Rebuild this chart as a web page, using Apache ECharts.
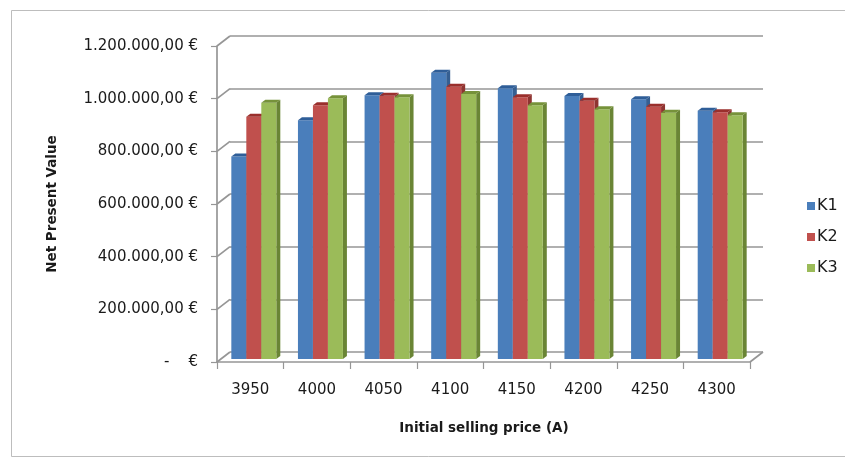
<!DOCTYPE html>
<html>
<head>
<meta charset="utf-8">
<script src="https://cdn.jsdelivr.net/npm/echarts@6/dist/echarts.min.js"></script>
<style>
  html, body { margin: 0; padding: 0; background: #fff; }
  #chart { width: 845px; height: 460px; }
</style>
</head>
<body>
<div id="chart"></div>
<script>
// Net present value by initial selling price, three scenarios
const categories = ['3950', '4000', '4050', '4100', '4150', '4200', '4250', '4300'];
const seriesNames = ['K1', 'K2', 'K3'];
const k1 = [769000, 907000, 1002000, 1087000, 1028000, 999000, 986000, 943000];
const k2 = [920000, 964000, 1000000, 1034000, 994000, 981000, 958000, 937000];
const k3 = [973000, 990000, 994000, 1006000, 964000, 948000, 935000, 926000];
const yTicks = [0, 200000, 400000, 600000, 800000, 1000000, 1200000];

const FONT = 'DejaVu Sans';
const GRID_COLOR = '#969696';

// front, top and side shades of each column
const palette = [
  { front: '#4a7ebb', top: '#2f5e98', side: '#355f92' },
  { front: '#c0504d', top: '#9a2f2c', side: '#8e3431' },
  { front: '#9bbb59', top: '#76923a', side: '#6a8535' }
];

// oblique projection: how far the back wall sits from the front plane
const WALL_DX = 13, WALL_DY = -10;
// columns stand a little behind the front plane and have a small depth
const COL_DX = 3.5, COL_DY = -3;
const DEPTH_DX = 4, DEPTH_DY = -3;
const GROUP_RATIO = 0.675;

function fmtEuro(v) {
  if (v === 0) return '-    €';
  const s = Math.round(v).toString().replace(/\B(?=(\d{3})+(?!\d))/g, '.');
  return s + ',00 €';
}

function columnRenderer(seriesIndex) {
  return function (params, api) {
    const cat = api.value(0);
    const val = api.value(1);
    const base = api.coord([cat, 0]);
    const top = api.coord([cat, val]);
    const band = api.size([1, 0])[0];
    const groupW = band * GROUP_RATIO;
    const barW = groupW / seriesNames.length;
    const x0 = base[0] - groupW / 2 + seriesIndex * barW + COL_DX;
    const x1 = x0 + barW;
    const yb = base[1] + COL_DY;
    const yt = top[1] + COL_DY;
    const c = palette[seriesIndex];
    return {
      type: 'group',
      children: [
        {
          type: 'polygon',
          shape: { points: [[x1, yt], [x1 + DEPTH_DX, yt + DEPTH_DY], [x1 + DEPTH_DX, yb + DEPTH_DY], [x1, yb]] },
          style: { fill: c.side }
        },
        {
          type: 'rect',
          shape: { x: x0, y: yt, width: barW, height: yb - yt },
          style: { fill: c.front }
        },
        {
          type: 'polygon',
          shape: { points: [[x0, yt], [x1, yt], [x1 + DEPTH_DX, yt + DEPTH_DY], [x0 + DEPTH_DX, yt + DEPTH_DY]] },
          style: { fill: c.top }
        }
      ]
    };
  };
}

// side-wall lines joining the front value axis to the back wall,
// plus the right edge of the floor
function frameRenderer(params, api) {
  const v = api.value(0);
  const band = api.size([1, 0])[0];
  const p = api.coord([0, v]);
  const left = p[0] - band / 2;
  const children = [{
    type: 'line',
    shape: { x1: left, y1: p[1], x2: left + WALL_DX, y2: p[1] + WALL_DY },
    style: { stroke: GRID_COLOR, lineWidth: 1.7 }
  }];
  if (v === 0) {
    const q = api.coord([categories.length - 1, 0]);
    const right = q[0] + band / 2;
    children.push({
      type: 'line',
      shape: { x1: right, y1: q[1], x2: right + WALL_DX, y2: q[1] + WALL_DY },
      style: { stroke: GRID_COLOR, lineWidth: 1.7 }
    });
  }
  return { type: 'group', children: children };
}

const chart = echarts.init(document.getElementById('chart'), null, { renderer: 'canvas' });

const valueData = [k1, k2, k3];

const option = {
  animation: false,
  backgroundColor: '#ffffff',
  textStyle: { fontFamily: FONT },
  grid: [
    { left: 217, right: 95, top: 46, bottom: 98 },
    { left: 230, right: 82, top: 36, bottom: 108 }
  ],
  xAxis: [
    {
      type: 'category', gridIndex: 0, data: categories,
      axisLine: { show: true, lineStyle: { color: GRID_COLOR, width: 1.7 } },
      axisTick: { show: true, length: 7, lineStyle: { color: GRID_COLOR, width: 1.2 } },
      axisLabel: { margin: 21, fontSize: 15, color: '#1a1a1a', fontFamily: FONT }
    },
    {
      type: 'category', gridIndex: 1, data: categories, show: false
    }
  ],
  yAxis: [
    {
      type: 'value', gridIndex: 0, min: 0, max: 1200000, interval: 200000,
      axisLine: { show: true, lineStyle: { color: GRID_COLOR, width: 1.7 } },
      axisTick: { show: true, length: 6, lineStyle: { color: GRID_COLOR, width: 1.2 } },
      splitLine: { show: false },
      axisLabel: { margin: 19, fontSize: 15, color: '#1a1a1a', fontFamily: FONT, formatter: fmtEuro }
    },
    {
      type: 'value', gridIndex: 1, min: 0, max: 1200000, interval: 200000,
      axisLine: { show: false }, axisTick: { show: false }, axisLabel: { show: false },
      splitLine: { show: true, lineStyle: { color: GRID_COLOR, width: 1.7 } }
    }
  ],
  legend: {
    orient: 'vertical', left: 802, top: 193,
    itemWidth: 8, itemHeight: 8, itemGap: 15,
    icon: 'rect',
    textStyle: { fontSize: 16, color: '#1a1a1a', fontFamily: FONT, padding: [0, 0, 0, -3] },
    data: seriesNames
  },
  graphic: [
    {
      type: 'rect', silent: true, z: -10,
      shape: { x: 11.5, y: 10.5, width: 845, height: 446 },
      style: { fill: 'none', stroke: '#bdbdbd', lineWidth: 1 }
    },
    {
      type: 'text', x: 52, y: 204, rotation: Math.PI / 2,
      style: {
        text: 'Net Present Value', fontFamily: FONT, fontSize: 13.5, fontWeight: 'bold',
        fill: '#1a1a1a', textAlign: 'center', textVerticalAlign: 'middle'
      }
    },
    {
      type: 'text', x: 484, y: 428,
      style: {
        text: 'Initial selling price (A)', fontFamily: FONT, fontSize: 13.5, fontWeight: 'bold',
        fill: '#1a1a1a', textAlign: 'center', textVerticalAlign: 'middle'
      }
    }
  ],
  series: [
    {
      name: 'frame', type: 'custom', xAxisIndex: 0, yAxisIndex: 0, silent: true, z: 1,
      renderItem: frameRenderer,
      data: yTicks.map(v => [v])
    }
  ].concat(seriesNames.map((name, s) => ({
    name: name, type: 'custom', xAxisIndex: 0, yAxisIndex: 0, z: 2,
    itemStyle: { color: palette[s].front },
    renderItem: columnRenderer(s),
    encode: { x: 0, y: 1 },
    data: categories.map((c, i) => [i, valueData[s][i]])
  })))
};

chart.setOption(option);
</script>
</body>
</html>
